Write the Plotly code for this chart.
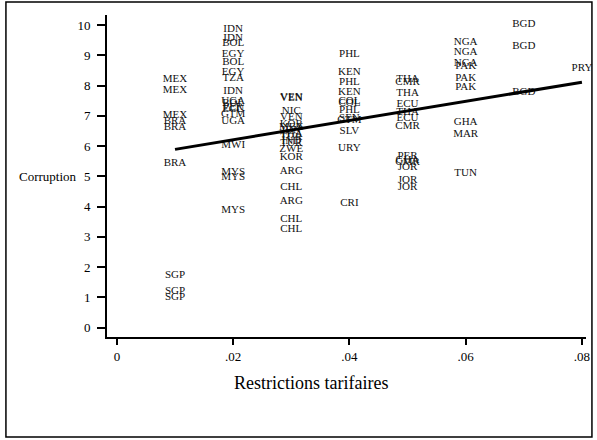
import plotly.graph_objects as go

# Country codes, tariff restrictions and corruption index
countries = [
    "MEX", "MEX", "MEX", "BRA", "BRA", "BRA", "SGP", "SGP", "SGP",
    "IDN", "IDN", "BOL", "EGY", "BOL", "EGY", "TZA", "IDN", "UGA", "BOL",
    "PER", "ECU", "GTM", "UGA", "MWI", "MYS", "MYS", "MYS",
    "VEN", "VEN", "NIC", "VEN", "KOR", "MEX", "IDN", "THA", "TUR", "IND",
    "TUR", "ZWE", "KOR", "ARG", "CHL", "ARG", "CHL", "CHL",
    "PHL", "KEN", "PHL", "KEN", "COL", "COL", "PHL", "SEN", "GTM", "SLV",
    "URY", "CRI",
    "THA", "CMR", "THA", "ECU", "THA", "ECU", "CMR", "PER", "GHA", "CMR",
    "JOR", "JOR", "JOR",
    "NGA", "NGA", "NGA", "PAK", "PAK", "PAK", "GHA", "MAR", "TUN",
    "BGD", "BGD", "BGD",
    "PRY",
]
tariffs = (
    [0.01] * 9
    + [0.02] * 18
    + [0.03] * 18
    + [0.04] * 12
    + [0.05] * 13
    + [0.06] * 9
    + [0.07] * 3
    + [0.08]
)
corruption = [
    8.21, 7.85, 7.02, 6.83, 6.63, 5.44, 1.74, 1.21, 1.01,
    9.87, 9.57, 9.40, 9.04, 8.78, 8.45, 8.25, 7.82, 7.49, 7.42,
    7.29, 7.22, 7.06, 6.83, 6.03, 5.14, 4.98, 3.88,
    7.62, 7.57, 7.14, 6.94, 6.73, 6.63, 6.53, 6.40, 6.30, 6.17,
    6.10, 5.88, 5.64, 5.17, 4.64, 4.18, 3.59, 3.26,
    9.04, 8.45, 8.12, 7.78, 7.49, 7.42, 7.19, 6.92, 6.86, 6.50,
    5.93, 4.12,
    8.21, 8.12, 7.75, 7.39, 7.12, 6.92, 6.66, 5.67, 5.54, 5.47,
    5.31, 4.88, 4.64,
    9.44, 9.11, 8.74, 8.64, 8.25, 7.95, 6.79, 6.40, 5.11,
    10.03, 9.31, 7.78,
    8.58,
]

# fitted line end points
fit_x = [0.01, 0.08]
fit_y = [5.89, 8.11]

x_ticks = [0, 0.02, 0.04, 0.06, 0.08]
x_ticktext = ["0", ".02", ".04", ".06", ".08"]
y_ticks = list(range(0, 11))

serif = "Liberation Serif, Times New Roman, serif"

fig = go.Figure()
fig.add_trace(go.Scatter(
    x=tariffs, y=corruption, text=countries,
    mode="text",
    textposition="middle center",
    textfont=dict(family=serif, size=11, color="#111"),
    cliponaxis=False,
    showlegend=False,
))
fig.add_trace(go.Scatter(
    x=fit_x, y=fit_y, mode="lines",
    line=dict(color="black", width=3),
    showlegend=False,
))

fig.update_layout(
    width=597, height=440,
    margin=dict(l=107, r=7, t=15, b=103),
    paper_bgcolor="white", plot_bgcolor="white",
    font=dict(family=serif, size=13, color="black"),
    xaxis=dict(
        range=[-0.0017, 0.0807],
        tickvals=x_ticks, ticktext=x_ticktext,
        showgrid=False, zeroline=False,
        showline=True, linecolor="black", linewidth=2,
        ticks="outside", ticklen=6, tickwidth=2, tickcolor="black",
        tickfont=dict(size=13),
    ),
    yaxis=dict(
        range=[-0.31, 10.33],
        tickvals=y_ticks,
        showgrid=False, zeroline=False,
        showline=True, linecolor="black", linewidth=2,
        ticks="outside", ticklen=8, tickwidth=2, tickcolor="black",
        tickfont=dict(size=13),
        ticklabelstandoff=4,
    ),
    annotations=[
        dict(text="Corruption", xref="paper", yref="y", x=-0.058, y=5,
             xanchor="right", yanchor="middle", showarrow=False,
             font=dict(size=13)),
        dict(text="Restrictions tarifaires", xref="paper", yref="paper",
             x=0.425, y=-0.143, xanchor="center", yanchor="middle",
             showarrow=False, font=dict(size=18)),
    ],
    shapes=[
        dict(type="rect", xref="paper", yref="paper",
             x0=-0.211, x1=1.0124, y0=-0.3106, y1=1.0404,
             line=dict(color="black", width=1.5)),
    ],
)

# drop the default page margin so the figure sits at the window's corner
fig.write_html("out.html", config={"displayModeBar": False},
               post_script="document.body.style.margin='0';")
